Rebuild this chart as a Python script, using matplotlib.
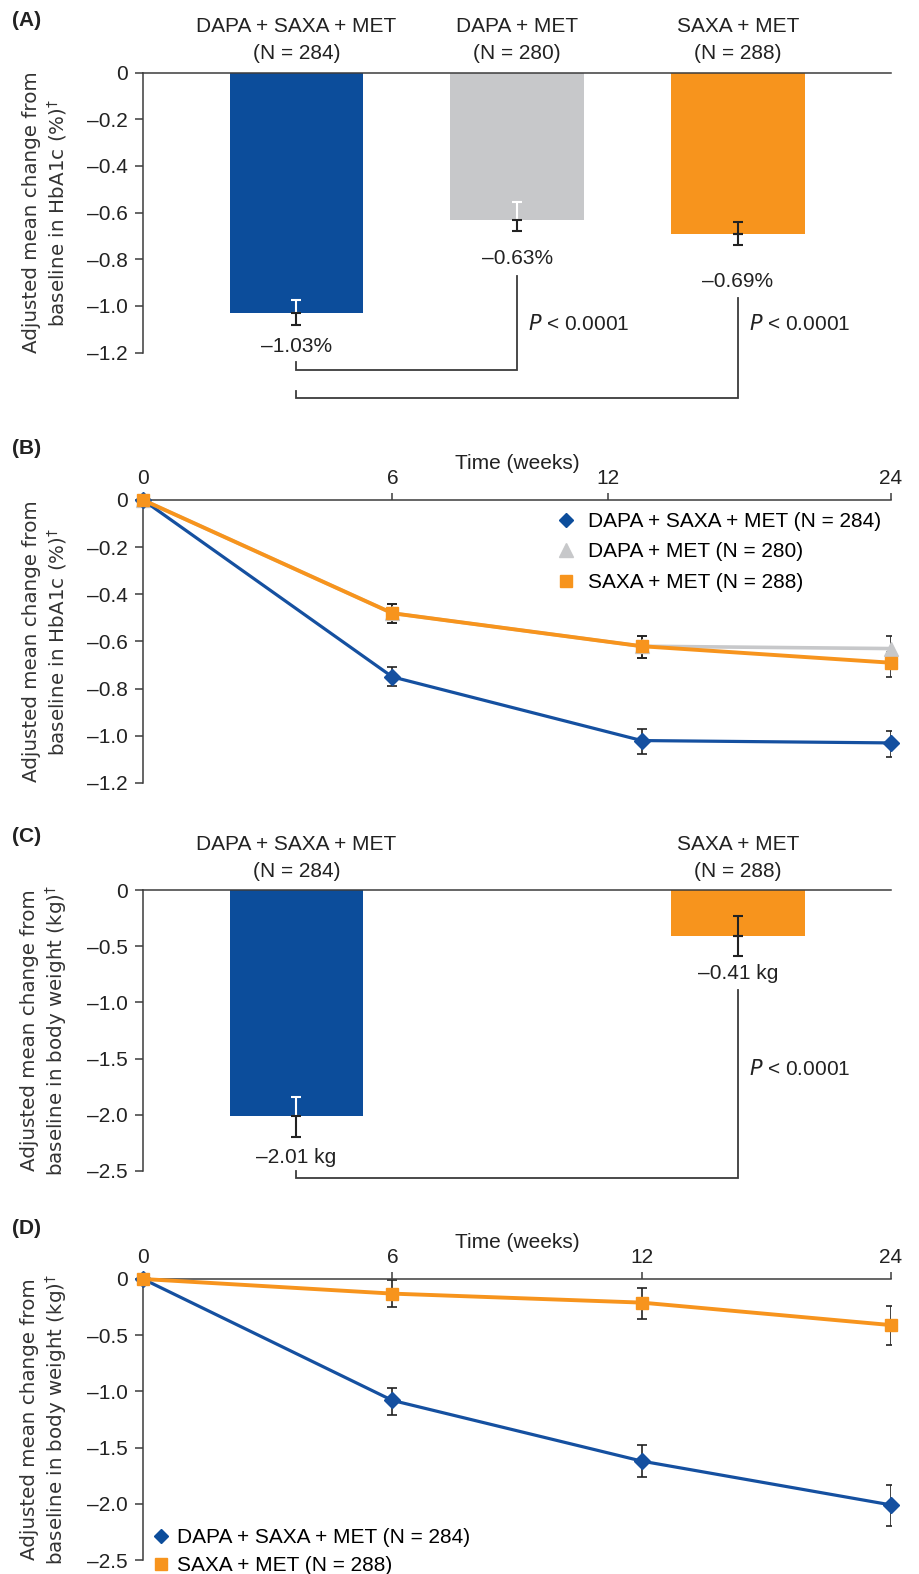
import numpy as np
import matplotlib
matplotlib.use('Agg')
import matplotlib.pyplot as plt
from matplotlib.lines import Line2D
from matplotlib.ticker import FuncFormatter

plt.rcParams['font.family'] = ['Liberation Sans', 'DejaVu Sans']

# ---- data ----
groups_a = ['DAPA + SAXA + MET', 'DAPA + MET', 'SAXA + MET']
n_a = ['(N = 284)', '(N = 280)', '(N = 288)']
hba1c_bar = [-1.03, -0.63, -0.69]
hba1c_bar_hi = [-0.975, -0.555, -0.64]
hba1c_bar_lo = [-1.08, -0.68, -0.74]
hba1c_bar_txt = ['–1.03%', '–0.63%', '–0.69%']

weeks = [0, 6, 12, 24]
b_triple = [0, -0.75, -1.02, -1.03]
b_triple_hi = [-0.71, -0.97, -0.98]
b_triple_lo = [-0.79, -1.075, -1.09]
b_dapa = [0, -0.48, -0.62, -0.63]
b_dapa_hi = [-0.44, -0.575, -0.575]
b_dapa_lo = [-0.52, -0.67, -0.69]
b_saxa = [0, -0.48, -0.62, -0.69]
b_saxa_hi = [-0.44, -0.575, -0.645]
b_saxa_lo = [-0.52, -0.67, -0.75]

groups_c = ['DAPA + SAXA + MET', 'SAXA + MET']
n_c = ['(N = 284)', '(N = 288)']
wt_bar = [-2.01, -0.41]
wt_bar_hi = [-1.84, -0.23]
wt_bar_lo = [-2.20, -0.59]
wt_bar_txt = ['–2.01 kg', '–0.41 kg']

d_triple = [0, -1.08, -1.62, -2.01]
d_triple_hi = [-0.97, -1.475, -1.835]
d_triple_lo = [-1.21, -1.765, -2.195]
d_saxa = [0, -0.13, -0.21, -0.41]
d_saxa_hi = [-0.01, -0.08, -0.24]
d_saxa_lo = [-0.25, -0.36, -0.59]

BLUE = '#0c4d9b'
LBLUE = '#1550a0'
GRAY = '#c7c8ca'
ORANGE = '#f7941d'
DARK = '#3c3c3c'
TXT = '#222222'
FS = 15
TFS = 15

fig = plt.figure(figsize=(9.2, 15.74), dpi=100)
L, W = 143/920, 748/920
def rect(top, bot):
    return [L, 1-bot/1574, W, (bot-top)/1574]

ax_a = fig.add_axes(rect(72.5, 352.5))
ax_b = fig.add_axes(rect(500, 783))
ax_c = fig.add_axes(rect(890, 1171))
ax_d = fig.add_axes(rect(1279, 1560))

dash = FuncFormatter(lambda v, _: '0' if abs(v) < 1e-9 else f'{v:.1f}'.replace('-', '–'))

def style_axis(ax, ylabel, yticks):
    for s in ['right', 'bottom']:
        ax.spines[s].set_visible(False)
    for s in ['left', 'top']:
        ax.spines[s].set_color(DARK)
        ax.spines[s].set_linewidth(1.1)
    ax.set_yticks(yticks)
    ax.yaxis.set_major_formatter(dash)
    ax.tick_params(axis='y', direction='out', length=5.8, width=1.1, color=DARK,
                   pad=5, labelsize=TFS, labelcolor=TXT)
    ax.set_ylabel(ylabel, fontsize=14.3, family='DejaVu Sans', color='#333333',
                  linespacing=1.2)
    ax.yaxis.set_label_coords(-0.099, 0.5)

def panel_tag(ypix, tag):
    fig.text(12/920, 1 - ypix/1574, tag, fontsize=15, fontweight='bold',
             ha='left', va='center', color=TXT)

def bar_panel(ax, pos, vals, hi, lo, colors, upcols, groups, ns, txt, txt_y, ylim):
    ax.bar(pos, vals, width=0.607, color=colors, zorder=2)
    for x, v, h, l, uc in zip(pos, vals, hi, lo, upcols):
        ax.errorbar([x], [v], yerr=[[0], [h - v]], fmt='none', ecolor=uc,
                    elinewidth=1.5, capsize=3.5, capthick=1.5, zorder=3)
        ax.errorbar([x], [v], yerr=[[v - l], [0]], fmt='none', ecolor=TXT,
                    elinewidth=1.5, capsize=3.5, capthick=1.5, zorder=3)
    for x, g, n, t, ty in zip(pos, groups, ns, txt, txt_y):
        ax.annotate(g, (x, 0), xytext=(0, 29), textcoords='offset points',
                    ha='center', va='baseline', fontsize=FS, color=TXT)
        ax.annotate(n, (x, 0), xytext=(0, 9.5), textcoords='offset points',
                    ha='center', va='baseline', fontsize=FS, color=TXT)
        ax.text(x, ty, t, ha='center', va='baseline', fontsize=FS, color=TXT)
    ax.set_xlim(-0.6955, 2.694)
    ax.set_ylim(*ylim)
    ax.set_xticks([])

def bracket(ax, x0, y0, x1, y1, ybar):
    ax.plot([x0, x0, x1, x1], [y0, ybar, ybar, y1], color=DARK, lw=1.3,
            clip_on=False, solid_joinstyle='miter')

def p_text(ax, x, y):
    ax.text(x, y, r'$\it{P}$ < 0.0001', fontsize=FS, ha='left', va='baseline',
            color=TXT)

lab_hba1c = 'Adjusted mean change from\nbaseline in HbA1c (%)$^{\\dagger}$'
lab_wt = 'Adjusted mean change from\nbaseline in body weight (kg)$^{\\dagger}$'

# ---- (A) ----
style_axis(ax_a, lab_hba1c, np.arange(0, -1.21, -0.2))
bar_panel(ax_a, [0, 1, 2], hba1c_bar, hba1c_bar_hi, hba1c_bar_lo,
          [BLUE, GRAY, ORANGE], ['white', 'white', TXT],
          groups_a, n_a, hba1c_bar_txt, [-1.197, -0.819, -0.918], (-1.2, 0))
bracket(ax_a, 0, -1.242, 1, -0.870, -1.274)
bracket(ax_a, 0, -1.367, 2, -0.967, -1.397)
p_text(ax_a, 1.05, -1.104)
p_text(ax_a, 2.05, -1.104)
panel_tag(20, '(A)')

# ---- line panels ----
def line_panel(ax, series, tickpos):
    x = np.arange(len(weeks))
    for vals, hi, lo, col, mk, ms, lw in series:
        v = np.array(vals[1:])
        ax.errorbar(x[1:], v, yerr=[v - np.array(lo), np.array(hi) - v], fmt='none',
                    ecolor=TXT, elinewidth=1.2, capsize=3.5, capthick=1.2, zorder=2)
    for vals, hi, lo, col, mk, ms, lw in series:
        ax.plot(x, vals, color=col, lw=lw, marker=mk, ms=ms, mfc=col, mec=col,
                clip_on=False, zorder=3)
    ax.set_xlim(0, len(weeks) - 1)
    ax.xaxis.tick_top()
    ax.xaxis.set_label_position('top')
    ax.set_xticks(tickpos)
    ax.set_xticklabels([str(w) for w in weeks])
    ax.tick_params(axis='x', direction='out', length=5, width=1.1, color=DARK,
                   pad=3.5, labelsize=TFS, labelcolor=TXT)
    ax.set_xlabel('Time (weeks)', fontsize=FS, color=TXT)
    ax.xaxis.set_label_coords(0.5, 1.11)

style_axis(ax_b, lab_hba1c, np.arange(0, -1.21, -0.2))
ax_b.set_ylim(-1.2, 0)
line_panel(ax_b, [
    (b_dapa, b_dapa_hi, b_dapa_lo, GRAY, '^', 10.5, 2.6),
    (b_triple, b_triple_hi, b_triple_lo, LBLUE, 'D', 8.5, 2.3),
    (b_saxa, b_saxa_hi, b_saxa_lo, ORANGE, 's', 9, 2.8),
], [0, 1, 1.865, 3])
hb = [Line2D([], [], ls='none', marker='D', ms=7.6, color=BLUE),
      Line2D([], [], ls='none', marker='^', ms=10, color=GRAY),
      Line2D([], [], ls='none', marker='s', ms=8.4, color=ORANGE)]
ax_b.legend(hb, ['DAPA + SAXA + MET (N = 284)', 'DAPA + MET (N = 280)', 'SAXA + MET (N = 288)'],
            loc='upper left', bbox_to_anchor=(0.551, 0.958), frameon=False,
            handlelength=1.0, handletextpad=0.6, labelspacing=0.55, borderpad=0,
            borderaxespad=0, fontsize=FS)
panel_tag(449, '(B)')

# ---- (C) ----
style_axis(ax_c, lab_wt, np.arange(0, -2.51, -0.5))
bar_panel(ax_c, [0, 2], wt_bar, wt_bar_hi, wt_bar_lo, [BLUE, ORANGE], ['white', TXT],
          groups_c, n_c, wt_bar_txt, [-2.431, -0.795], (-2.5, 0))
bracket(ax_c, 0, -2.497, 2, -0.89, -2.56)
p_text(ax_c, 2.05, -1.646)
panel_tag(837, '(C)')

# ---- (D) ----
style_axis(ax_d, lab_wt, np.arange(0, -2.51, -0.5))
ax_d.set_ylim(-2.5, 0)
line_panel(ax_d, [
    (d_triple, d_triple_hi, d_triple_lo, LBLUE, 'D', 8.5, 2.3),
    (d_saxa, d_saxa_hi, d_saxa_lo, ORANGE, 's', 9, 2.8),
], [0, 1, 2, 3])
hd = [Line2D([], [], ls='none', marker='D', ms=7.6, color=BLUE),
      Line2D([], [], ls='none', marker='s', ms=8.4, color=ORANGE)]
ax_d.legend(hd, ['DAPA + SAXA + MET (N = 284)', 'SAXA + MET (N = 288)'],
            loc='lower left', bbox_to_anchor=(0.0103, -0.055), frameon=False,
            handlelength=1.0, handletextpad=0.27, labelspacing=0.45, borderpad=0,
            borderaxespad=0, fontsize=FS)
panel_tag(1228, '(D)')

fig.savefig('out.png', dpi=100)
